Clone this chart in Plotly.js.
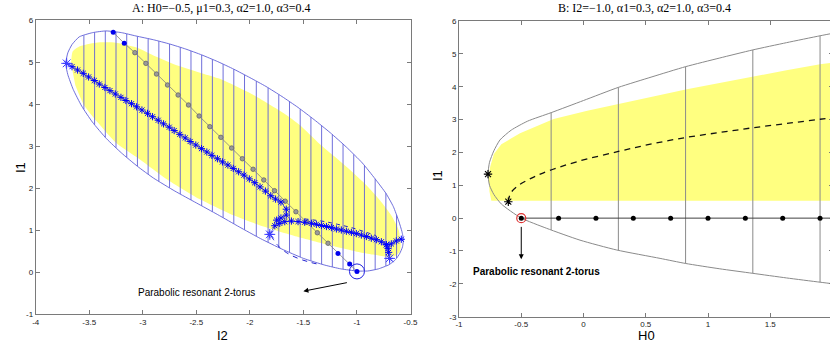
<!DOCTYPE html>
<html><head><meta charset="utf-8">
<script src="https://cdn.plot.ly/plotly-3.0.1.min.js"></script>
<style>html,body{margin:0;padding:0;overflow:hidden;background:#fff}#c{width:834px;height:349px}</style>
</head><body><div id="c"></div>
<script>
// ---------- Panel A data ----------
const xTicksA = [-4,-3.5,-3,-2.5,-2,-1.5,-1,-0.5];
const xTickTextA = ['-4','-3.5','-3','-2.5','-2','-1.5','-1','-0.5'];
const yTicksA = [-1,0,1,2,3,4,5,6];
const yTickTextA = ['-1','0','1','2','3','4','5','6'];

const ellUpX = [-3.72,-3.70,-3.66,-3.593,-3.468,-3.344,-3.20,-3.064,-2.90,-2.75,-2.60,-2.45,-2.30,-2.15,-2.0,-1.85,-1.70,-1.55,-1.40,-1.25,-1.10,-0.95,-0.83,-0.73,-0.66,-0.61,-0.58,-0.565];
const ellUpY = [4.96,5.22,5.42,5.60,5.70,5.74,5.70,5.62,5.53,5.43,5.31,5.17,5.01,4.83,4.63,4.42,4.18,3.92,3.63,3.32,2.98,2.60,2.22,1.88,1.56,1.22,0.97,0.78];
const ellLoX = [-0.565,-0.575,-0.60,-0.64,-0.70,-0.80,-0.90,-1.0,-1.15,-1.30,-1.50,-1.70,-1.90,-2.10,-2.30,-2.50,-2.70,-2.90,-3.05,-3.20,-3.34,-3.47,-3.57,-3.65,-3.70,-3.72];
const ellLoY = [0.78,0.60,0.45,0.30,0.18,0.08,0.03,0.03,0.08,0.17,0.33,0.55,0.80,1.08,1.37,1.65,1.93,2.24,2.52,2.84,3.18,3.57,3.95,4.35,4.70,4.96];

const hatchX  = [-3.55,-3.45,-3.35,-3.25,-3.15,-3.05,-2.95,-2.85,-2.75,-2.65,-2.55,-2.45,-2.35,-2.25,-2.15,-2.05,-1.94,-1.83,-1.73,-1.63,-1.53,-1.43,-1.33,-1.23,-1.13,-1.03,-0.93,-0.83,-0.73,-0.63];
const hatchLo = [3.874,3.51,3.21,2.961,2.733,2.52,2.333,2.163,2.008,1.86,1.72,1.58,1.44,1.298,1.153,1.01,0.856,0.713,0.588,0.473,0.363,0.274,0.194,0.128,0.073,0.04,0.03,0.065,0.15,0.338];
const hatchHi = [5.634,5.706,5.738,5.714,5.67,5.612,5.557,5.497,5.43,5.35,5.263,5.17,5.063,4.95,4.83,4.697,4.546,4.388,4.228,4.059,3.881,3.688,3.485,3.275,3.048,2.803,2.537,2.22,1.88,1.356];

const yelAX = [-3.67,-3.655,-3.593,-3.438,-3.251,-3.064,-2.878,-2.691,-2.443,-2.28,-1.97,-1.659,-1.5345,-1.348,-1.13,-0.944,-0.788,-0.679,-0.610,-0.592,-0.60,-0.64,-0.70,-0.85,-1.0,-1.28,-1.59,-1.91,-2.16,-2.47,-2.78,-3.03,-3.25,-3.42,-3.55,-3.63];
const yelAY = [4.97,5.25,5.37,5.46,5.46,5.35,5.13,4.93,4.73,4.60,4.22,3.74,3.50,3.05,2.58,2.15,1.72,1.35,1.00,0.69,0.49,0.39,0.36,0.42,0.49,0.66,0.87,1.12,1.36,1.74,2.22,2.69,3.08,3.56,3.98,4.45];

const starMainX = [-3.711,-3.661,-3.609,-3.556,-3.506,-3.453,-3.406,-3.354,-3.307,-3.257,-3.204,-3.158,-3.105,-3.058,-3.008,-2.956,-2.909,-2.856,-2.806,-2.753,-2.707,-2.654,-2.604,-2.558,-2.505,-2.452,-2.402,-2.355,-2.303,-2.256,-2.205,-2.155,-2.105,-2.055,-2.005,-1.955,-1.905,-1.855,-1.805,-1.76,-1.71,-1.66,-1.66,-1.71,-1.75];
const starMainY = [4.969,4.890,4.810,4.731,4.645,4.560,4.477,4.395,4.320,4.240,4.160,4.085,4.010,3.935,3.859,3.780,3.700,3.615,3.530,3.450,3.370,3.280,3.195,3.110,3.026,2.940,2.860,2.780,2.700,2.625,2.55,2.47,2.39,2.31,2.22,2.13,2.03,1.93,1.82,1.74,1.67,1.50,1.36,1.29,1.24];

const starBrX = [-1.814,-1.767,-1.721,-1.674,-1.612,-1.550,-1.488,-1.425,-1.379,-1.332,-1.285,-1.239,-1.192,-1.146,-1.099,-1.052,-1.006,-0.959,-0.912,-0.866,-0.819,-0.772,-0.726,-0.679,-0.633,-0.586];
const starBrY = [0.901,1.107,1.163,1.203,1.218,1.205,1.190,1.165,1.140,1.112,1.088,1.062,1.030,1.005,0.975,0.950,0.920,0.885,0.850,0.810,0.775,0.725,0.655,0.675,0.745,0.785];
const starDnX = [-0.726,-0.71,-0.704,-0.695];
const starDnY = [0.655,0.568,0.473,0.330];
const bigStarX = [-3.711,-1.814,-0.695];
const bigStarY = [4.969,0.901,0.330];

const dashUpX = [-1.49,-1.41,-1.30,-1.18,-1.05,-0.93,-0.82];
const dashUpY = [1.27,1.245,1.205,1.14,1.06,0.965,0.87];
const dashLoX = [-1.80,-1.78,-1.74,-1.66,-1.55,-1.44,-1.36];
const dashLoY = [0.86,0.78,0.64,0.47,0.33,0.24,0.19];

const grayX = [-3.074,-2.971,-2.872,-2.769,-2.670,-2.573,-2.474,-2.374,-2.271,-2.17,-2.07,-1.97,-1.87,-1.77,-1.67,-1.57,-1.47,-1.37,-1.27];
const grayY = [5.223,4.969,4.715,4.454,4.216,3.978,3.716,3.462,3.209,2.955,2.70,2.45,2.195,1.94,1.69,1.44,1.19,0.94,0.69];
const blueTopX = [-3.276,-3.173];
const blueTopY = [5.707,5.445];
const blueBotX = [-1.177,-1.068,-1.0];
const blueBotY = [0.449,0.195,0.02];
const torusA = [-1.0, 0.02];

// ---------- Panel B data ----------
const xTicksB = [-1,-0.5,0,0.5,1,1.5,2];
const xTickTextB = ['-1','-0.5','0','0.5','1','1.5','2'];
const yTicksB = [-3,-2,-1,0,1,2,3,4,5,6];
const yTickTextB = ['-3','-2','-1','0','1','2','3','4','5','6'];

const bndX = [2.05,1.90,1.63,1.36,1.09,0.82,0.55,0.28,0.0,-0.26,-0.45,-0.58,-0.671,-0.72,-0.755,-0.767,-0.755,-0.72,-0.66,-0.504,-0.296,-0.028,0.267,0.615,0.82,1.09,1.36,1.63,1.90,2.05];
const bndY = [5.66,5.55,5.34,5.12,4.87,4.61,4.30,3.98,3.58,3.21,2.95,2.68,2.38,2.05,1.70,1.34,1.0,0.72,0.43,0.01,-0.31,-0.67,-0.97,-1.225,-1.38,-1.54,-1.68,-1.82,-1.95,-2.02];
const vlineBX  = [-0.26,0.28,0.82,1.36,1.90];
const vlineBLo = [-0.36,-0.97,-1.38,-1.68,-1.95];
const vlineBHi = [3.21,3.98,4.61,5.12,5.55];
const yelBX = [-0.74,-0.755,-0.762,-0.75,-0.72,-0.66,-0.51,-0.24,0.03,0.29,0.56,0.83,1.10,1.37,1.63,1.90,2.05,2.05];
const yelBY = [0.53,0.80,1.20,1.56,1.95,2.25,2.58,3.02,3.27,3.47,3.70,3.92,4.12,4.32,4.50,4.68,4.76,0.53];
const dashBX = [-0.604,-0.585,-0.52,-0.40,-0.25,-0.05,0.28,0.55,0.83,1.10,1.36,1.63,1.90,2.05];
const dashBY = [0.50,0.76,1.00,1.25,1.48,1.72,2.03,2.26,2.46,2.61,2.75,2.88,3.01,3.08];
const dotBX = [-0.2,0.1,0.4,0.7,1.0,1.3,1.6,1.9];
const dotBY = [0,0,0,0,0,0,0,0];
const hLineBX = [-0.5,2.05];
const hLineBY = [0,0];
const starBX = [-0.767,-0.604];
const starBY = [1.34,0.50];
const torusB = [-0.5, 0];

// ---------- build ----------
function segs(xs, lo, hi){const X=[],Y=[];xs.forEach((x,i)=>{X.push(x,x,null);Y.push(lo[i],hi[i],null);});return {X,Y};}
const hA = segs(hatchX,hatchLo,hatchHi);
const hB = segs(vlineBX,vlineBLo,vlineBHi);
const blueLine = 'rgb(95,95,215)';
const starMk = {symbol:'asterisk-open',size:6,color:'#0000ff',line:{color:'#0000ff',width:1}};
const traces = [
  {x:yelAX,y:yelAY,type:'scatter',mode:'lines',fill:'toself',fillcolor:'#ffff80',line:{width:0,shape:'spline',smoothing:0.6},hoverinfo:'skip',xaxis:'x',yaxis:'y'},
  {x:hA.X,y:hA.Y,type:'scatter',mode:'lines',line:{color:blueLine,width:0.9},xaxis:'x',yaxis:'y'},
  {x:ellUpX.concat(ellLoX),y:ellUpY.concat(ellLoY),type:'scatter',mode:'lines',line:{color:blueLine,width:0.9,shape:'spline',smoothing:0.5},xaxis:'x',yaxis:'y'},
  {x:blueTopX.concat(grayX,blueBotX),y:blueTopY.concat(grayY,blueBotY),type:'scatter',mode:'lines',line:{color:'#808080',width:0.8},xaxis:'x',yaxis:'y'},
  {x:grayX,y:grayY,type:'scatter',mode:'markers',marker:{symbol:'circle',size:4.5,color:'#9a9a9a',line:{color:'#666',width:0.8}},xaxis:'x',yaxis:'y'},
  {x:blueTopX.concat(blueBotX),y:blueTopY.concat(blueBotY),type:'scatter',mode:'markers',marker:{symbol:'circle',size:5,color:'#0000ee'},xaxis:'x',yaxis:'y'},
  {x:dashUpX,y:dashUpY,type:'scatter',mode:'lines',line:{color:'#2020d0',width:1,dash:'4px,4px',shape:'spline'},xaxis:'x',yaxis:'y'},
  {x:dashLoX,y:dashLoY,type:'scatter',mode:'lines',line:{color:'#2020d0',width:1,dash:'5px,5px',shape:'spline'},xaxis:'x',yaxis:'y'},
  {x:starMainX,y:starMainY,type:'scatter',mode:'lines+markers',line:{color:'#2020e0',width:0.7},marker:starMk,xaxis:'x',yaxis:'y'},
  {x:starBrX,y:starBrY,type:'scatter',mode:'lines+markers',line:{color:'#2020e0',width:0.7},marker:starMk,xaxis:'x',yaxis:'y'},
  {x:starDnX,y:starDnY,type:'scatter',mode:'lines+markers',line:{color:'#2020e0',width:0.7},marker:starMk,xaxis:'x',yaxis:'y'},
  {x:bigStarX,y:bigStarY,type:'scatter',mode:'markers',marker:{symbol:'asterisk-open',size:9,color:'#4040ff',line:{color:'#4040ff',width:1}},xaxis:'x',yaxis:'y'},
  {x:[torusA[0]],y:[torusA[1]],type:'scatter',mode:'markers',marker:{symbol:'circle-open',size:15,color:'#2020e0',line:{color:'#2020e0',width:1}},xaxis:'x',yaxis:'y'},
  // Panel B
  {x:yelBX,y:yelBY,type:'scatter',mode:'lines',fill:'toself',fillcolor:'#ffff80',line:{width:0},hoverinfo:'skip',xaxis:'x2',yaxis:'y2'},
  {x:hB.X,y:hB.Y,type:'scatter',mode:'lines',line:{color:'#8a8a8a',width:1},xaxis:'x2',yaxis:'y2'},
  {x:bndX,y:bndY,type:'scatter',mode:'lines',line:{color:'#8a8a8a',width:1,shape:'spline',smoothing:0.6},xaxis:'x2',yaxis:'y2'},
  {x:hLineBX,y:hLineBY,type:'scatter',mode:'lines',line:{color:'#404040',width:1},xaxis:'x2',yaxis:'y2'},
  {x:dashBX,y:dashBY,type:'scatter',mode:'lines',line:{color:'#111',width:1.3,dash:'6px,5px',shape:'spline'},xaxis:'x2',yaxis:'y2'},
  {x:dotBX,y:dotBY,type:'scatter',mode:'markers',marker:{symbol:'circle',size:5,color:'#000'},xaxis:'x2',yaxis:'y2'},
  {x:starBX,y:starBY,type:'scatter',mode:'markers',marker:{symbol:'asterisk-open',size:7,color:'#000',line:{color:'#000',width:1.1}},xaxis:'x2',yaxis:'y2'},
  {x:[torusB[0]],y:[torusB[1]],type:'scatter',mode:'markers',marker:{symbol:'circle-open',size:9,color:'#e03030',line:{color:'#e03030',width:1.2}},xaxis:'x2',yaxis:'y2'},
  {x:[torusB[0]],y:[torusB[1]],type:'scatter',mode:'markers',marker:{symbol:'circle',size:5,color:'#000'},xaxis:'x2',yaxis:'y2'}
];

const W = 834, H = 349;
const axBase = {showgrid:false,zeroline:false,showline:true,linecolor:'#7a7a7a',linewidth:1,mirror:'ticks',ticks:'inside',ticklen:4,tickcolor:'#7a7a7a',tickfont:{family:'Liberation Sans, Arial',size:8,color:'#222'},tickmode:'array'};
const layout = {
  width:W,height:H,margin:{l:0,r:0,t:0,b:0},paper_bgcolor:'#fff',plot_bgcolor:'rgba(0,0,0,0)',showlegend:false,
  xaxis:Object.assign({},axBase,{domain:[35.7/W,410.5/W],range:[-4,-0.5],tickvals:xTicksA,ticktext:xTickTextA,anchor:'y'}),
  yaxis:Object.assign({},axBase,{domain:[(H-314.3)/H,(H-20)/H],range:[-1,6],tickvals:yTicksA,ticktext:yTickTextA,anchor:'x'}),
  xaxis2:Object.assign({},axBase,{domain:[459/W,832.5/W],range:[-1,2],tickvals:xTicksB,ticktext:xTickTextB,anchor:'y2'}),
  yaxis2:Object.assign({},axBase,{domain:[(H-316.7)/H,(H-21)/H],range:[-3,6],tickvals:yTicksB,ticktext:yTickTextB,anchor:'x2'}),
  annotations:[
    {xref:'paper',yref:'paper',x:221.7/W,y:(H-8)/H,text:'A: H0=−0.5, μ1=0.3, α2=1.0, α3=0.4',showarrow:false,xanchor:'center',yanchor:'middle',font:{family:'Liberation Serif, Times New Roman',size:12,color:'#000'}},
    {xref:'paper',yref:'paper',x:644/W,y:(H-8)/H,text:'B: I2=−1.0, α1=0.3, α2=1.0, α3=0.4',showarrow:false,xanchor:'center',yanchor:'middle',font:{family:'Liberation Serif, Times New Roman',size:12,color:'#000'}},
    {xref:'paper',yref:'paper',x:222.7/W,y:(H-335)/H,text:'I2',showarrow:false,xanchor:'center',yanchor:'middle',font:{family:'Liberation Sans, Arial',size:13,color:'#000'}},
    {xref:'paper',yref:'paper',x:20/W,y:(H-168)/H,text:'I1',textangle:-90,showarrow:false,xanchor:'center',yanchor:'middle',font:{family:'Liberation Sans, Arial',size:13,color:'#000'}},
    {xref:'paper',yref:'paper',x:646.7/W,y:(H-335)/H,text:'H0',showarrow:false,xanchor:'center',yanchor:'middle',font:{family:'Liberation Sans, Arial',size:13,color:'#000'}},
    {xref:'paper',yref:'paper',x:437/W,y:(H-175)/H,text:'I1',textangle:-90,showarrow:false,xanchor:'center',yanchor:'middle',font:{family:'Liberation Sans, Arial',size:13,color:'#000'}},
    {xref:'x',yref:'y',x:-2.5,y:-0.48,text:'Parabolic resonant 2-torus',showarrow:false,xanchor:'center',yanchor:'middle',font:{family:'Liberation Sans, Arial',size:10,color:'#000'}},
    {xref:'x',yref:'y',x:-1.50,y:-0.45,axref:'x',ayref:'y',ax:-1.08,ay:-0.24,text:'',showarrow:true,arrowhead:2,arrowsize:1,arrowwidth:1,arrowcolor:'#000'},
    {xref:'x2',yref:'y2',x:-0.376,y:-1.63,text:'<b>Parabolic resonant 2-torus</b>',showarrow:false,xanchor:'center',yanchor:'middle',font:{family:'Liberation Sans, Arial',size:10,color:'#000'}},
    {xref:'x2',yref:'y2',x:-0.5,y:-1.25,axref:'x2',ayref:'y2',ax:-0.5,ay:-0.22,text:'',showarrow:true,arrowhead:2,arrowsize:1,arrowwidth:1,arrowcolor:'#000'}
  ]
};
Plotly.newPlot('c',traces,layout,{displayModeBar:false,staticPlot:true});
</script>
</body></html>
